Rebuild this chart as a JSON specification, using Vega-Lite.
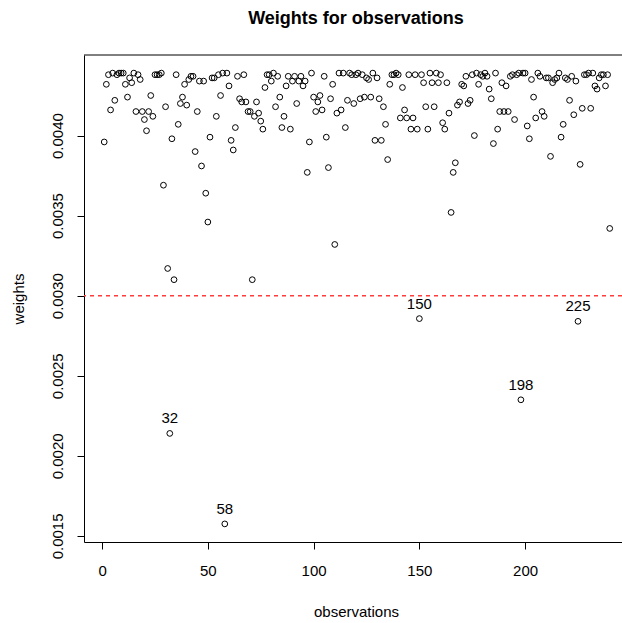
{
  "$schema": "https://vega.github.io/schema/vega-lite/v6.json",
  "width": 538,
  "height": 487,
  "autosize": {"type": "none"},
  "padding": {"left": 84, "top": 55, "right": 0, "bottom": 81},
  "background": "#ffffff",
  "config": {"view": {"stroke": null}, "font": "Liberation Sans"},
  "title": {"text": "Weights for observations", "fontSize": 18, "fontWeight": "bold", "color": "#000000", "anchor": "middle", "frame": "group", "offset": 13, "baseline": "alphabetic", "dx": 3},
  "data": {"values": [
    {"obs":1,"weight":0.00396},{"obs":2,"weight":0.00432},{"obs":3,"weight":0.00438},{"obs":4,"weight":0.00416},{"obs":5,"weight":0.00439},
    {"obs":6,"weight":0.00422},{"obs":7,"weight":0.00438},{"obs":8,"weight":0.00439},{"obs":9,"weight":0.00439},{"obs":10,"weight":0.00439},
    {"obs":11,"weight":0.00432},{"obs":12,"weight":0.00424},{"obs":13,"weight":0.00436},{"obs":14,"weight":0.00433},{"obs":15,"weight":0.00439},
    {"obs":16,"weight":0.00415},{"obs":17,"weight":0.00438},{"obs":18,"weight":0.00435},{"obs":19,"weight":0.00415},{"obs":20,"weight":0.00410},
    {"obs":21,"weight":0.00403},{"obs":22,"weight":0.00415},{"obs":23,"weight":0.00425},{"obs":24,"weight":0.00412},{"obs":25,"weight":0.00438},
    {"obs":26,"weight":0.00438},{"obs":27,"weight":0.00438},{"obs":28,"weight":0.00439},{"obs":29,"weight":0.00369},{"obs":30,"weight":0.00418},
    {"obs":31,"weight":0.00317},{"obs":32,"weight":0.00214},{"obs":33,"weight":0.00398},{"obs":34,"weight":0.00310},{"obs":35,"weight":0.00438},
    {"obs":36,"weight":0.00407},{"obs":37,"weight":0.00420},{"obs":38,"weight":0.00424},{"obs":39,"weight":0.00432},{"obs":40,"weight":0.00419},
    {"obs":41,"weight":0.00435},{"obs":42,"weight":0.00437},{"obs":43,"weight":0.00437},{"obs":44,"weight":0.00390},{"obs":45,"weight":0.00415},
    {"obs":46,"weight":0.00434},{"obs":47,"weight":0.00381},{"obs":48,"weight":0.00434},{"obs":49,"weight":0.00364},{"obs":50,"weight":0.00346},
    {"obs":51,"weight":0.00399},{"obs":52,"weight":0.00436},{"obs":53,"weight":0.00436},{"obs":54,"weight":0.00412},{"obs":55,"weight":0.00438},
    {"obs":56,"weight":0.00425},{"obs":57,"weight":0.00439},{"obs":58,"weight":0.001575},{"obs":59,"weight":0.00439},{"obs":60,"weight":0.00431},
    {"obs":61,"weight":0.00397},{"obs":62,"weight":0.00391},{"obs":63,"weight":0.00405},{"obs":64,"weight":0.00437},{"obs":65,"weight":0.00423},
    {"obs":66,"weight":0.00421},{"obs":67,"weight":0.00438},{"obs":68,"weight":0.00421},{"obs":69,"weight":0.00415},{"obs":70,"weight":0.00415},
    {"obs":71,"weight":0.00310},{"obs":72,"weight":0.00412},{"obs":73,"weight":0.00421},{"obs":74,"weight":0.00414},{"obs":75,"weight":0.00409},
    {"obs":76,"weight":0.00404},{"obs":77,"weight":0.00430},{"obs":78,"weight":0.00438},{"obs":79,"weight":0.00438},{"obs":80,"weight":0.00434},
    {"obs":81,"weight":0.00439},{"obs":82,"weight":0.00418},{"obs":83,"weight":0.00437},{"obs":84,"weight":0.00424},{"obs":85,"weight":0.00405},
    {"obs":86,"weight":0.00412},{"obs":87,"weight":0.00431},{"obs":88,"weight":0.00437},{"obs":89,"weight":0.00404},{"obs":90,"weight":0.00434},
    {"obs":91,"weight":0.00437},{"obs":92,"weight":0.00420},{"obs":93,"weight":0.00434},{"obs":94,"weight":0.00437},{"obs":95,"weight":0.00431},
    {"obs":96,"weight":0.00434},{"obs":97,"weight":0.00377},{"obs":98,"weight":0.00396},{"obs":99,"weight":0.00439},{"obs":100,"weight":0.00424},
    {"obs":101,"weight":0.00415},{"obs":102,"weight":0.00421},{"obs":103,"weight":0.00425},{"obs":104,"weight":0.00416},{"obs":105,"weight":0.00437},
    {"obs":106,"weight":0.00399},{"obs":107,"weight":0.00380},{"obs":108,"weight":0.00423},{"obs":109,"weight":0.00432},{"obs":110,"weight":0.00332},
    {"obs":111,"weight":0.00414},{"obs":112,"weight":0.00439},{"obs":113,"weight":0.00416},{"obs":114,"weight":0.00439},{"obs":115,"weight":0.00405},
    {"obs":116,"weight":0.00422},{"obs":117,"weight":0.00439},{"obs":118,"weight":0.00438},{"obs":119,"weight":0.00420},{"obs":120,"weight":0.00438},
    {"obs":121,"weight":0.00439},{"obs":122,"weight":0.00423},{"obs":123,"weight":0.00438},{"obs":124,"weight":0.00424},{"obs":125,"weight":0.00436},
    {"obs":126,"weight":0.00435},{"obs":127,"weight":0.00424},{"obs":128,"weight":0.00439},{"obs":129,"weight":0.00397},{"obs":130,"weight":0.00436},
    {"obs":131,"weight":0.00423},{"obs":132,"weight":0.00397},{"obs":133,"weight":0.00418},{"obs":134,"weight":0.00407},{"obs":135,"weight":0.00385},
    {"obs":136,"weight":0.00432},{"obs":137,"weight":0.00438},{"obs":138,"weight":0.00438},{"obs":139,"weight":0.00439},{"obs":140,"weight":0.00438},
    {"obs":141,"weight":0.00411},{"obs":142,"weight":0.00430},{"obs":143,"weight":0.00416},{"obs":144,"weight":0.00411},{"obs":145,"weight":0.00438},
    {"obs":146,"weight":0.00404},{"obs":147,"weight":0.00411},{"obs":148,"weight":0.00438},{"obs":149,"weight":0.00404},{"obs":150,"weight":0.002857},
    {"obs":151,"weight":0.00438},{"obs":152,"weight":0.00433},{"obs":153,"weight":0.00418},{"obs":154,"weight":0.00404},{"obs":155,"weight":0.00439},
    {"obs":156,"weight":0.00433},{"obs":157,"weight":0.00418},{"obs":158,"weight":0.00439},{"obs":159,"weight":0.00433},{"obs":160,"weight":0.00438},
    {"obs":161,"weight":0.00408},{"obs":162,"weight":0.00404},{"obs":163,"weight":0.00433},{"obs":164,"weight":0.00414},{"obs":165,"weight":0.00352},
    {"obs":166,"weight":0.00377},{"obs":167,"weight":0.00383},{"obs":168,"weight":0.00419},{"obs":169,"weight":0.00421},{"obs":170,"weight":0.00432},
    {"obs":171,"weight":0.00431},{"obs":172,"weight":0.00437},{"obs":173,"weight":0.00420},{"obs":174,"weight":0.00422},{"obs":175,"weight":0.00438},
    {"obs":176,"weight":0.00400},{"obs":177,"weight":0.00439},{"obs":178,"weight":0.00432},{"obs":179,"weight":0.00438},{"obs":180,"weight":0.00437},
    {"obs":181,"weight":0.00439},{"obs":182,"weight":0.00437},{"obs":183,"weight":0.00429},{"obs":184,"weight":0.00423},{"obs":185,"weight":0.00395},
    {"obs":186,"weight":0.00439},{"obs":187,"weight":0.00404},{"obs":188,"weight":0.00415},{"obs":189,"weight":0.00433},{"obs":190,"weight":0.00415},
    {"obs":191,"weight":0.00431},{"obs":192,"weight":0.00415},{"obs":193,"weight":0.00437},{"obs":194,"weight":0.00438},{"obs":195,"weight":0.00410},
    {"obs":196,"weight":0.00438},{"obs":197,"weight":0.00439},{"obs":198,"weight":0.00235},{"obs":199,"weight":0.00439},{"obs":200,"weight":0.00439},
    {"obs":201,"weight":0.00406},{"obs":202,"weight":0.00398},{"obs":203,"weight":0.00435},{"obs":204,"weight":0.00424},{"obs":205,"weight":0.00411},
    {"obs":206,"weight":0.00439},{"obs":207,"weight":0.00437},{"obs":208,"weight":0.00415},{"obs":209,"weight":0.00412},{"obs":210,"weight":0.00436},
    {"obs":211,"weight":0.00436},{"obs":212,"weight":0.00387},{"obs":213,"weight":0.00433},{"obs":214,"weight":0.00435},{"obs":215,"weight":0.00436},
    {"obs":216,"weight":0.00439},{"obs":217,"weight":0.00399},{"obs":218,"weight":0.00407},{"obs":219,"weight":0.00436},{"obs":220,"weight":0.00435},
    {"obs":221,"weight":0.00422},{"obs":222,"weight":0.00437},{"obs":223,"weight":0.00413},{"obs":224,"weight":0.00434},{"obs":225,"weight":0.00284},
    {"obs":226,"weight":0.00382},{"obs":227,"weight":0.00417},{"obs":228,"weight":0.00438},{"obs":229,"weight":0.00438},{"obs":230,"weight":0.00439},
    {"obs":231,"weight":0.00417},{"obs":232,"weight":0.00439},{"obs":233,"weight":0.00431},{"obs":234,"weight":0.00429},{"obs":235,"weight":0.00436},
    {"obs":236,"weight":0.00438},{"obs":237,"weight":0.00438},{"obs":238,"weight":0.00431},{"obs":239,"weight":0.00438},{"obs":240,"weight":0.00342}
  ]},
  "layer": [
    {
      "mark": {"type": "point", "shape": "circle", "filled": false, "stroke": "#000000", "strokeWidth": 1, "size": 33, "opacity": 1},
      "encoding": {
        "x": {"field": "obs", "type": "quantitative",
              "scale": {"domain": [-8.56, 245.8], "nice": false, "zero": false},
              "axis": {"values": [0, 50, 100, 150, 200], "grid": false, "tickSize": 7, "tickColor": "#000000", "domainColor": "#000000", "labelColor": "#000000", "labelFontSize": 15, "labelPadding": 14, "labelFlush": false,
                       "title": "observations", "titleFontSize": 15, "titleFontWeight": "normal", "titleColor": "#000000", "titleX": 272, "titleY": 69, "titleBaseline": "middle", "titleAlign": "center"}},
        "y": {"field": "weight", "type": "quantitative",
              "scale": {"domain": [0.001462, 0.004503], "nice": false, "zero": false},
              "axis": {"values": [0.0015, 0.002, 0.0025, 0.003, 0.0035, 0.004], "format": ".4f", "grid": false, "tickSize": 7, "tickColor": "#000000", "domainColor": "#000000", "labelColor": "#000000", "labelFontSize": 15, "labelAngle": -90, "labelAlign": "center", "labelBaseline": "bottom", "labelPadding": 12, "labelFlush": false,
                       "title": "weights", "titleFontSize": 15, "titleFontWeight": "normal", "titleColor": "#000000", "titleAngle": -90, "titleX": -66, "titleY": 243.5, "titleAlign": "center", "titleBaseline": "middle"}}
      }
    },
    {
      "data": {"values": [{}]},
      "mark": {"type": "rule", "color": "#000000", "strokeWidth": 1},
      "encoding": {"y": {"datum": 0.004503, "type": "quantitative"}}
    },
    {
      "data": {"values": [{}]},
      "mark": {"type": "rule", "color": "#ff3b3b", "strokeWidth": 1.5, "strokeDash": [4, 4]},
      "encoding": {"y": {"datum": 0.003, "type": "quantitative"}}
    },
    {
      "transform": [{"filter": {"field": "obs", "oneOf": [32, 58, 150, 198, 225]}}],
      "mark": {"type": "text", "fontSize": 15, "color": "#000000", "baseline": "middle", "align": "center", "dy": -15},
      "encoding": {
        "x": {"field": "obs", "type": "quantitative"},
        "y": {"field": "weight", "type": "quantitative"},
        "text": {"field": "obs", "type": "nominal"}
      }
    }
  ]
}
